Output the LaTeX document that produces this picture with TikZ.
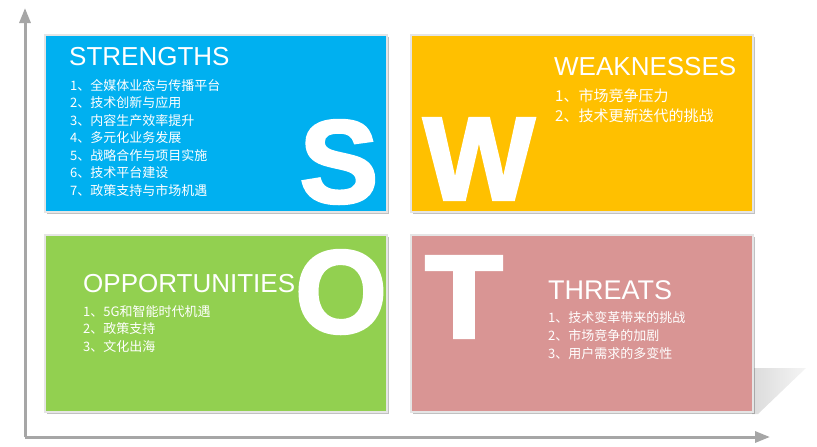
\documentclass[tikz,border=0pt]{standalone}
\usepackage{fontspec}
\setmainfont{Liberation Sans}
\newfontfamily\cjk{Noto Sans CJK SC}
\newfontfamily\heavyfont[FakeBold=2.5]{Liberation Sans Bold}
\usetikzlibrary{shadows,arrows.meta}
\definecolor{sblue}{RGB}{0,176,240}
\definecolor{wyellow}{RGB}{255,192,0}
\definecolor{ogreen}{RGB}{146,208,80}
\definecolor{tpink}{RGB}{217,149,148}
\definecolor{axisgray}{RGB}{166,166,166}
\begin{document}
\begin{tikzpicture}[x=1pt,y=-1pt,
  quad/.style={draw=black!10, line width=1.5pt, anchor=north west, inner sep=0pt,
    minimum width=342pt, minimum height=177pt,
    drop shadow={shadow xshift=2.5pt, shadow yshift=-2.5pt, opacity=0.35, fill=black!70}},
  bigletter/.style={text=white, inner sep=0pt, font=\fontsize{118}{118}\heavyfont},
  title/.style={text=white, inner sep=0pt, anchor=west, font=\fontsize{26}{26}\selectfont},
  items/.style={text=white, inner sep=0pt, anchor=north west, align=left},
  axis/.style={draw=axisgray, line width=3pt, -{Triangle[length=15pt,width=11pt]}}]
\useasboundingbox (0,0) rectangle (817,447);
% axes
\coordinate (org) at (25,437);
\coordinate (ytip) at (25,8);
\coordinate (xtip) at (770,437);
\draw[axis] (org) -- (ytip);
\draw[axis] (org) -- (xtip);
% reflection shadow
\shade[left color=black!14, right color=black!4] (752,368) -- (806,368) -- (758,414) -- (752,414) -- cycle;
% boxes
\node[quad, fill=sblue] (sbox) at (44,34) {};
\node[quad, fill=wyellow] (wbox) at (410,34) {};
\node[quad, fill=ogreen] (obox) at (44,234) {};
\node[quad, fill=tpink] (tbox) at (410,234) {};
% big letters
\node[bigletter] (sl) at (339,162) {S};
\node[bigletter] (wl) at (479,159) {W};
\node[bigletter] (ol) at (341,292) {O};
\node[bigletter, xscale=1.08] (tl) at (464,297) {T};
% titles
\node[title] (st) at (69,57) {STRENGTHS};
\node[title] (wt) at (554,67) {WEAKNESSES};
\node[title] (ot) at (83,284) {OPPORTUNITIES};
\node[title, font=\fontsize{27}{27}\selectfont] (tt) at (548,290) {THREATS};
% items
\node[items, font=\fontsize{13}{17.5}\selectfont\cjk] (si) at (70,79) {1、全媒体业态与传播平台\\2、技术创新与应用\\3、内容生产效率提升\\4、多元化业务发展\\5、战略合作与项目实施\\6、技术平台建设\\7、政策支持与市场机遇};
\node[items, font=\fontsize{15}{20}\selectfont\cjk] (wi) at (555,89) {1、市场竞争压力\\2、技术更新迭代的挑战};
\node[items, font=\fontsize{13}{17.5}\selectfont\cjk] (oi) at (83,305) {1、5G和智能时代机遇\\2、政策支持\\3、文化出海};
\node[items, font=\fontsize{13}{18}\selectfont\cjk] (ti) at (548,311) {1、技术变革带来的挑战\\2、市场竞争的加剧\\3、用户需求的多变性};
\end{tikzpicture}
\end{document}
